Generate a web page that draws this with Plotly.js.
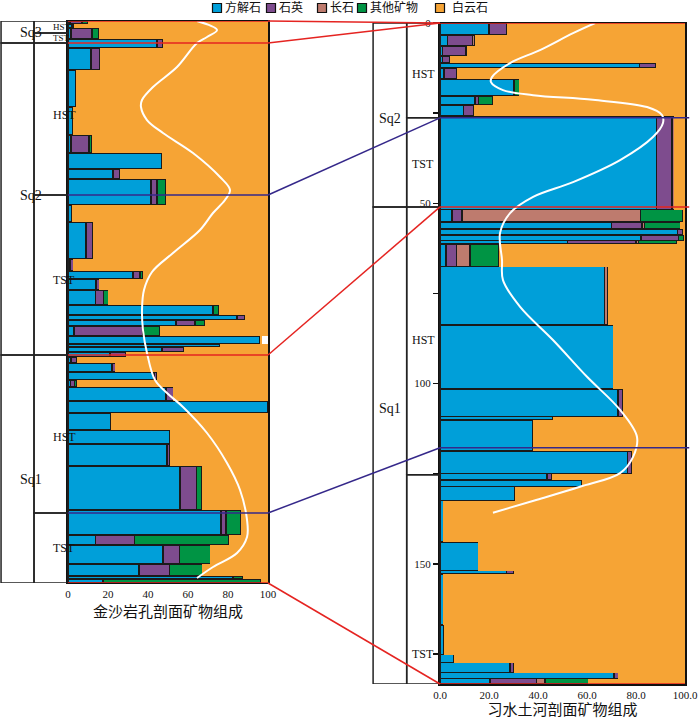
<!DOCTYPE html>
<html>
<head>
<meta charset="utf-8">
<script src="https://cdn.plot.ly/plotly-3.0.1.min.js"></script>
<style>body{margin:0;background:#fff}</style>
</head>
<body>
<div id="chart" style="width:700px;height:720px"></div>
<script>
const minerals = ["方解石", "石英", "长石", "其他矿物", "白云石"];
const colors = ["#009FD9", "#7E4C8E", "#BE7B6E", "#009444", "#F6A435"];

// 金沙岩孔 section (left), depth in drawing units (no scale shown)
const jsEdges = [0,3,7,18,27,49,86,114,132,148,158,184,201,238,250,258,269,284,294,299,305,
  315,323,326,331,336,342,351,359,366,380,392,409,423,445,489,514,524,543,555,558,562];
const jsCalcite = [1,2,1.5,44.5,11.5,4,2.5,1.5,47,22.5,41.5,2,9,1,32.5,14,13.8,72.5,84.5,54,
  3,96,76,47,21,1.5,22,43,1.3,49,100,21.5,51,49.5,56,76.5,13.7,47.5,35.5,82.5,17.5];
const jsQuartz = [6,1,10.5,3,4.5,0,0,9,0,3.5,3,0,3.5,1.7,3.5,1.7,3.8,0,4,9.5,
  34.5,0,0,11,8,3,1.7,1.3,2,3.7,0,0,0,1.5,8.3,2.5,19.7,8.3,15.3,0,0];
const jsFeldspar = [0,0,0,0,0,0,0,0,0,0,0,0,0,0,0,0,0,0,0,0,
  0,0,0,0,0,0,0,0,0,0,0,0,0,0,0,0,0,0,0,0,0];
const jsOther = [3,0,3.5,0,0,0,0,1.5,0,0,4.5,0,0,0,1.3,0,2.5,3,0,5,
  8.5,0,0,0,0,0,0,0,1,0,0,0,0,0,2.5,7.5,47,15.3,16.3,5,79];
const jsDolomite = [90,97,84.5,52.5,84,96,97.5,88,53,74,51,98,87.5,97.3,62.7,84.3,80,24.5,11.5,31.5,
  54,1,24,42,71,95.5,76.3,55.7,95.7,47.3,0,78.5,49,49,33.2,13.5,19.6,28.9,32.9,12.5,3.5];
const jsCurveX = [64.5,74.5,69.5,64.5,54.5,42.5,37,36.5,39.5,47.5,62.5,76,81,78.5,72.5,66,52.5,42,
  38,37,37.5,39.5,43.5,49.5,57.5,69.5,79.5,86,89.5,89.5,84.5,72.5,64.5];
const jsCurveY = [0,9,16,22,46,66,79,86,99,112,132,156,169,179,192,209,232,251,
  269,289,309,332,359,372,386,412,442,469,499,516,532,546,557];
const jsSeqNames = ["Sq3", "Sq2", "Sq1"];
const jsSeqEdges = [0, 22, 334, 562];
const jsSeqLabelAt = [11, 174, 459];
const jsTractNames = ["HST", "TST", "HST", "TST", "HST", "TST"];
const jsTractEdges = [0, 12, 22, 174, 334, 492, 562];
const jsTractLabelAt = [6, 17, 94, 259, 416, 527];
const jsLines = [0, 22, 174, 334, 492, 562];

// 习水土河 section (right), depth in m
const xsEdges = [0,3.3,6.4,9.1,11.1,12.5,15.5,20.2,22.7,25.8,51.8,55.2,57.1,58.8,60.4,61.3,67.6,
  83.7,101.5,109.2,110.1,118.7,125.0,126.7,128.6,132.5,143.9,151.9,152.8,166.9,175.2,177.4,180.2,181.8,183.3];
const xsCalcite = [20,3,1,1,81.3,1.6,30.2,14.3,9.5,88.5,4.9,70,97,82,52,2.4,67,
  70.7,72.7,46,38,76.5,43.7,58,30.6,1.3,15.6,27,1.3,1.6,5.7,28.6,71,20.4];
const xsQuartz = [7.2,10.2,9.5,3,6.8,5.2,0,1.4,4.4,6.2,4.1,12.5,2,15.4,28,4.4,0,
  0,1.8,0,0,1.8,2,0,0,0,0,3,0,0,0,1.6,1.8,19];
const xsFeldspar = [0,1,0.5,0,0,0,0,0,0,1,72.7,1,0,0,1,5.4,1.6,
  0,0,0,0,0,0,0,0,0,0,0,0,0,0,0,0,3.4];
const xsOther = [0,0,0,0,0,0,2.2,5.9,0,0,17.5,14.6,0,2,15.6,11.8,0,
  0,0,0,0,0,0,0,0,0,0,0,0,0,0,0,0,17.7];
const xsDolomite = [72.8,85.8,89,96,11.9,93.2,67.6,78.4,86.1,4.3,0.8,1.9,1,0.6,3.4,76,31.4,
  29.3,25.5,54,62,21.7,54.3,42,69.4,98.7,84.4,70,98.7,98.4,94.3,69.8,27.2,39.5];
const xsCurveX = [63.3,54.3,40.8,28.6,21.2,20.8,25.7,38,62.4,84.5,90.6,91,86.9,73.5,54.3,38,28.6,
  24.5,25.3,25.7,32.7,46.1,60,73.5,80.4,78.8,73.5,57.1,39.6,21.6];
const xsCurveY = [0,2.8,7.5,11.1,15,16.4,18.6,20,21.3,23.3,25.5,27.7,31.6,38,44.1,48.2,52.7,
  58.2,65.7,71.3,78.7,87.9,98.1,107.3,114.8,120.3,124.8,128.6,132.2,135.8];
const xsSeqNames = ["Sq2", "Sq1"];
const xsSeqEdges = [0, 51, 183.3];
const xsSeqLabelAt = [26.5, 107];
const xsTractNames = ["HST", "TST", "HST", "TST"];
const xsTractEdges = [0, 26.3, 51, 125.3, 183.3];
const xsTractLabelAt = [14, 39, 88, 175];
const xsLines = [0, 26.3, 51, 117.8, 183.3];

// boundary correlation: [left depth, right depth, colour]
const linkLeft = [0, 22, 174, 334, 492, 562];
const linkRight = [0, 0, 26.3, 51, 117.8, 183.3];
const linkColor = ["#E52421", "#E52421", "#35288A", "#E52421", "#35288A", "#E52421"];
const xsLineColor = ["#E52421", "#35288A", "#E52421", "#35288A", "#E52421"];

const LX = [0.0971, 0.3829], LY = [0.1903, 0.9708];
const RX = [0.6286, 0.9786], RY = [0.05, 0.968];
const jsMax = 562, xsMax = 183.3;
const serif = "'Liberation Serif', 'Noto Sans CJK SC', serif";

function mids(e) { return e.slice(0, -1).map((v, i) => (v + e[i + 1]) / 2); }
function sizes(e) { return e.slice(0, -1).map((v, i) => e[i + 1] - v); }
function pyL(d) { return LY[0] + (LY[1] - LY[0]) * (1 - d / jsMax); }
function pyR(d) { return RY[0] + (RY[1] - RY[0]) * (1 - d / xsMax); }

var data = [];
var jsSeries = [jsCalcite, jsQuartz, jsFeldspar, jsOther, jsDolomite];
var xsSeries = [xsCalcite, xsQuartz, xsFeldspar, xsOther, xsDolomite];

function edge(i) {
  // dolomite is the background fill, no outline between its rows
  return i === 4 ? { color: colors[4], width: 0 } : { color: "#1a1a1a", width: 1.3 };
}
for (let i = 0; i < 5; i++) {
  data.push({
    type: "bar", orientation: "h", x: jsSeries[i], y: mids(jsEdges), width: sizes(jsEdges),
    xaxis: "x", yaxis: "y", name: minerals[i], showlegend: false,
    marker: { color: colors[i], line: edge(i) }, hoverinfo: "x+name"
  });
}
for (let i = 0; i < 5; i++) {
  data.push({
    type: "bar", orientation: "h", x: xsSeries[i], y: mids(xsEdges), width: sizes(xsEdges),
    xaxis: "x2", yaxis: "y2", name: minerals[i], showlegend: false,
    marker: { color: colors[i], line: edge(i) }, hoverinfo: "x+name"
  });
}
data.push({ type: "scatter", mode: "lines", x: jsCurveX, y: jsCurveY, xaxis: "x", yaxis: "y",
  line: { color: "#fff", width: 2, shape: "spline" }, showlegend: false, hoverinfo: "skip" });
data.push({ type: "scatter", mode: "lines", x: xsCurveX, y: xsCurveY, xaxis: "x2", yaxis: "y2",
  line: { color: "#fff", width: 2, shape: "spline" }, showlegend: false, hoverinfo: "skip" });

var shapes = [];
var annotations = [];

// stratigraphic columns
function column(names, edges, labelAt, yref, x0, x1, size) {
  for (let i = 0; i < names.length; i++) {
    shapes.push({ type: "rect", xref: "paper", yref: yref, x0: x0, x1: x1, y0: edges[i], y1: edges[i + 1],
      line: { color: "#222", width: 1.5 }, layer: "above" });
    let s = (edges[i + 1] - edges[i] < 15) ? 9 : size;
    annotations.push({ xref: "paper", yref: yref, x: (x0 + x1) / 2, y: labelAt[i], text: names[i],
      showarrow: false, font: { family: serif, size: s, color: "#111" } });
  }
}
column(jsSeqNames, jsSeqEdges, jsSeqLabelAt, "y", 0.0015, 0.0486, 14);
column(jsTractNames, jsTractEdges, jsTractLabelAt, "y", 0.0486, LX[0], 12);
column(xsSeqNames, xsSeqEdges, xsSeqLabelAt, "y2", 0.533, 0.581, 14);
column(xsTractNames, xsTractEdges, xsTractLabelAt, "y2", 0.581, RX[0], 12);

jsLines.forEach((d, i) => {
  shapes.push({ type: "line", xref: "paper", yref: "y", x0: LX[0], x1: LX[1], y0: d, y1: d,
    line: { color: linkColor[i], width: 1.5 }, layer: "above" });
});
xsLines.forEach((d, i) => {
  let ext = (i === 0 || i === xsLines.length - 1) ? 0 : 0.006;
  shapes.push({ type: "line", xref: "paper", yref: "y2", x0: RX[0], x1: RX[1] + ext, y0: d, y1: d,
    line: { color: xsLineColor[i], width: 1.5 }, layer: "above" });
});
linkLeft.forEach((d, i) => {
  shapes.push({ type: "line", xref: "paper", yref: "paper", x0: LX[1], x1: RX[0],
    y0: pyL(d), y1: pyR(linkRight[i]), line: { color: linkColor[i], width: 1.5 }, layer: "above" });
});

// legend drawn by hand so the swatches sit tight against the names
const legendX = [217, 271, 322, 362, 440];
minerals.forEach((m, i) => {
  let cx = legendX[i] / 700, cy = 1 - 8 / 720;
  shapes.push({ type: "rect", xref: "paper", yref: "paper",
    x0: cx - 4.5 / 700, x1: cx + 4.5 / 700, y0: cy - 4.5 / 720, y1: cy + 4.5 / 720,
    fillcolor: colors[i], line: { color: "#111", width: 1.2 } });
  annotations.push({ xref: "paper", yref: "paper", x: cx + (i === 4 ? 10 : 6) / 700, y: cy,
    xanchor: "left", yanchor: "middle", text: m, showarrow: false,
    font: { family: serif, size: 12, color: "#111" } });
});

var layout = {
  width: 700, height: 720,
  margin: { l: 0, r: 0, t: 0, b: 0 },
  paper_bgcolor: "#fff", plot_bgcolor: "#fff",
  barmode: "stack",
  font: { family: serif, size: 11, color: "#111" },
  showlegend: false,
  xaxis: { domain: LX, anchor: "y", range: [0, 100], tickvals: [0, 20, 40, 60, 80, 100],
    showgrid: false, zeroline: false, showline: true, mirror: true, linecolor: "#111", linewidth: 1.5,
    ticks: "", tickfont: { family: serif, size: 11 },
    title: { text: "金沙岩孔剖面矿物组成", font: { family: serif, size: 15 }, standoff: 8 } },
  yaxis: { domain: LY, anchor: "x", range: [jsMax, 0], showticklabels: false, ticks: "",
    showgrid: false, zeroline: false, showline: true, mirror: true, linecolor: "#111", linewidth: 2 },
  xaxis2: { domain: RX, anchor: "y2", range: [0, 100], tickvals: [0, 20, 40, 60, 80, 100],
    tickformat: ".1f", showgrid: false, zeroline: false, showline: true, mirror: true,
    linecolor: "#111", linewidth: 1.5, ticks: "", tickfont: { family: serif, size: 11 },
    title: { text: "习水土河剖面矿物组成", font: { family: serif, size: 15 }, standoff: 5 } },
  yaxis2: { domain: RY, anchor: "x2", range: [xsMax, 0],
    tickvals: [0, 25, 50, 75, 100, 125, 150, 175],
    ticktext: ["0", "", "50", "", "100", "", "150", ""],
    ticks: "outside", ticklen: 5, tickwidth: 1.5, tickcolor: "#111",
    tickfont: { family: serif, size: 11 },
    showgrid: false, zeroline: false, showline: true, mirror: true, linecolor: "#111", linewidth: 2 },
  shapes: shapes,
  annotations: annotations
};

Plotly.newPlot("chart", data, layout, { displayModeBar: false, staticPlot: true });
</script>
</body>
</html>
